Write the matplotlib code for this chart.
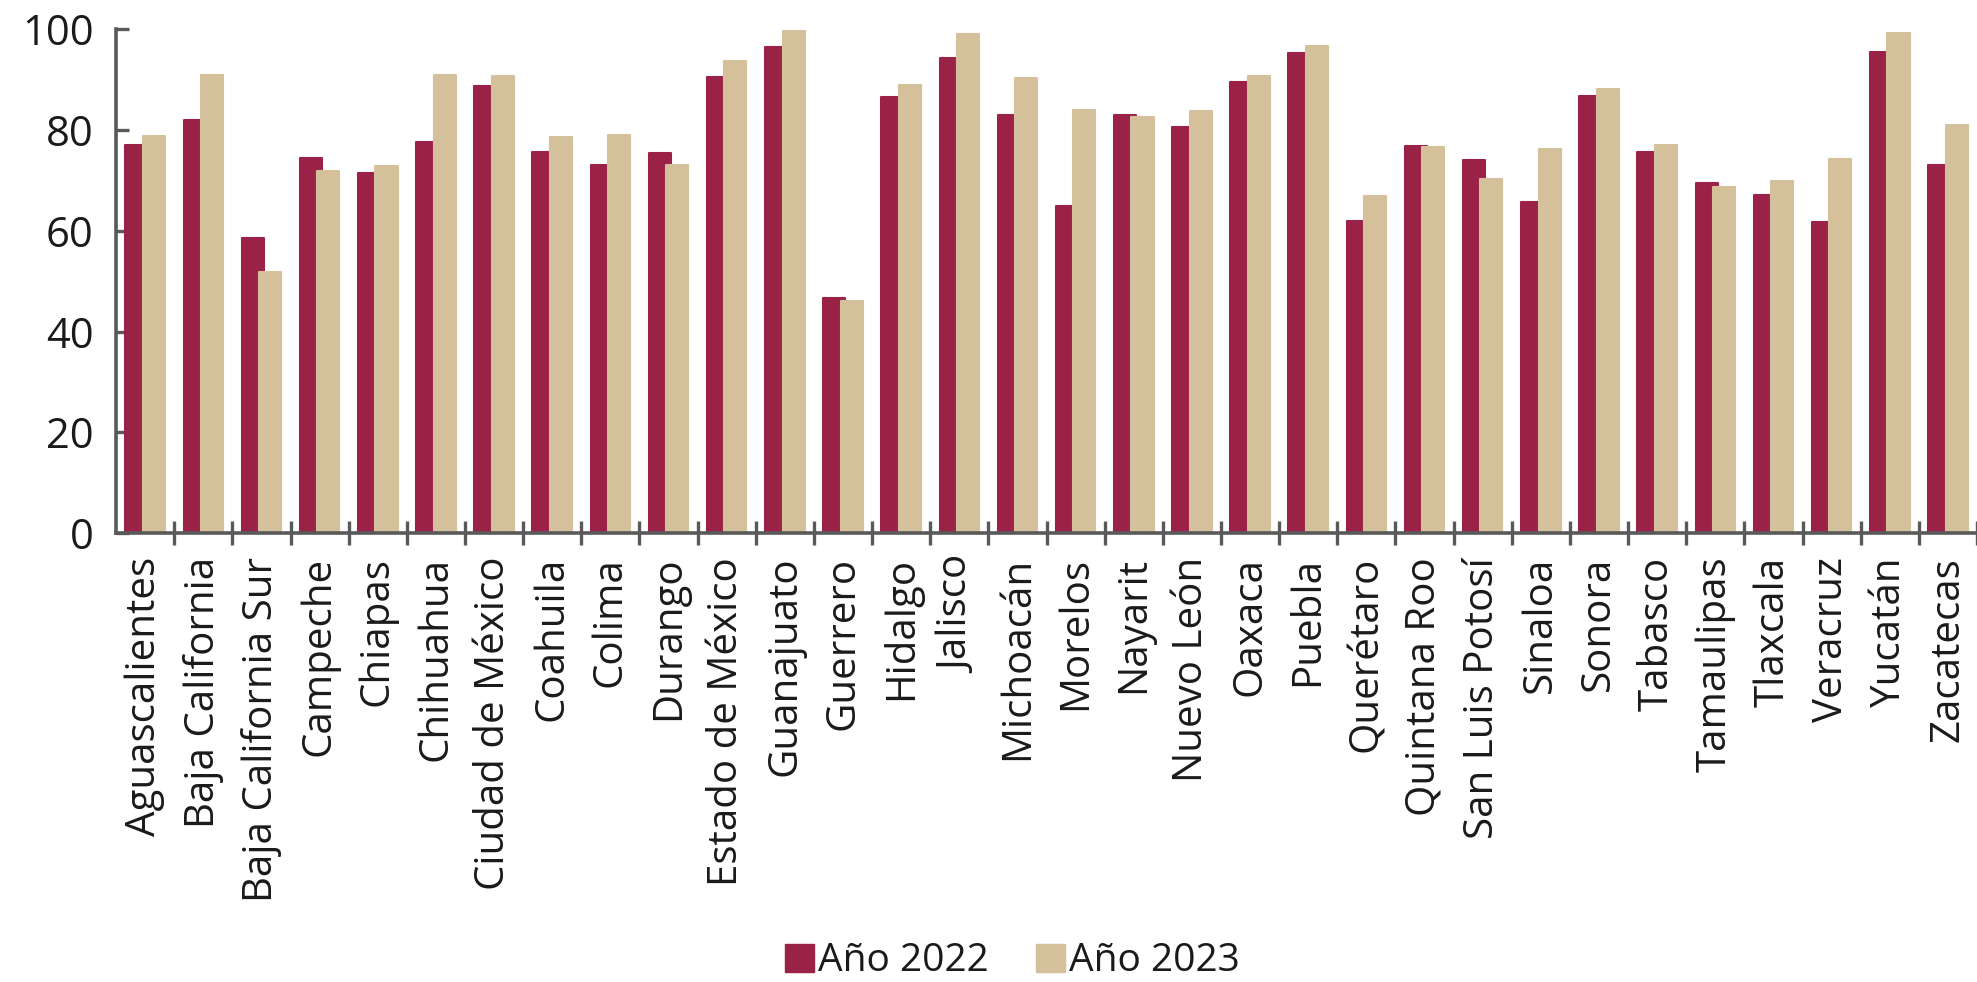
import matplotlib
matplotlib.use("Agg")
import matplotlib.pyplot as plt
from matplotlib.patches import Patch
import numpy as np

plt.rcParams["font.family"] = ["Open Sans", "DejaVu Sans"]

STATES = [
    "Aguascalientes", "Baja California", "Baja California Sur", "Campeche", "Chiapas",
    "Chihuahua", "Ciudad de México", "Coahuila", "Colima", "Durango",
    "Estado de México", "Guanajuato", "Guerrero", "Hidalgo", "Jalisco",
    "Michoacán", "Morelos", "Nayarit", "Nuevo León", "Oaxaca",
    "Puebla", "Querétaro", "Quintana Roo", "San Luis Potosí", "Sinaloa",
    "Sonora", "Tabasco", "Tamaulipas", "Tlaxcala", "Veracruz",
    "Yucatán", "Zacatecas",
]
Y2022 = [
    77.1, 82.1, 58.7, 74.5, 71.5, 77.7, 88.8, 75.7, 73.1, 75.5,
    90.6, 96.5, 46.6, 86.5, 94.3, 83.0, 65.0, 83.0, 80.6, 89.5,
    95.4, 62.0, 76.8, 74.1, 65.8, 86.7, 75.7, 69.5, 67.2, 61.7,
    95.6, 73.0,
]
Y2023 = [
    78.9, 91.0, 51.8, 72.0, 72.8, 91.0, 90.8, 78.7, 79.0, 73.0,
    93.8, 99.6, 46.0, 88.9, 99.1, 90.3, 84.0, 82.6, 83.8, 90.8,
    96.7, 66.9, 76.6, 70.4, 76.2, 88.1, 77.1, 68.8, 70.0, 74.3,
    99.3, 81.1,
]
LABELS = ["Año 2022", "Año 2023"]
RED = "#9B2247"
GOLD = "#D4C19C"
AXIS = "#595959"

fig = plt.figure(figsize=(19.77, 9.82), dpi=100)
ax = fig.add_axes([0.0587, 0.457, 0.9413, 0.513])

x = np.arange(len(STATES))
width = 0.38
ax.bar(x - 0.15, Y2022, width, color=RED, edgecolor=RED, linewidth=1.5, joinstyle="round", zorder=2)
ax.bar(x + 0.15, Y2023, width, color=GOLD, edgecolor=GOLD, linewidth=1.5, joinstyle="round", zorder=3)

ax.set_xlim(-0.5, 31.45)
ax.set_ylim(0, 100)
ax.set_yticks(range(0, 101, 20))
ax.set_xticks(x)
ax.set_xticklabels(STATES, rotation=90, fontsize=29, color="#1a1a1a")
ax.set_xticks(np.arange(len(STATES)) + 0.5, minor=True)

for side in ("top", "right"):
    ax.spines[side].set_visible(False)
for side in ("left", "bottom"):
    ax.spines[side].set_color(AXIS)
    ax.spines[side].set_linewidth(2.6)
    ax.spines[side].set_zorder(4)

ax.tick_params(axis="y", direction="in", length=9, width=2.4, color=AXIS,
               labelsize=30, labelcolor="#1a1a1a", pad=16)
ax.tick_params(axis="x", which="major", length=0, pad=17)
ax.tick_params(axis="x", which="minor", direction="inout", length=17, width=2.4, color=AXIS)

handles = [Patch(facecolor=RED, edgecolor=RED), Patch(facecolor=GOLD, edgecolor=GOLD)]
fig.legend(handles, LABELS, loc="center", bbox_to_anchor=(0.512, 0.021), ncols=2,
           frameon=False, fontsize=28, handlelength=0.75, handleheight=0.75,
           handletextpad=0.1, columnspacing=1.2, labelcolor="#1a1a1a")

fig.savefig("out.png", dpi=100)
